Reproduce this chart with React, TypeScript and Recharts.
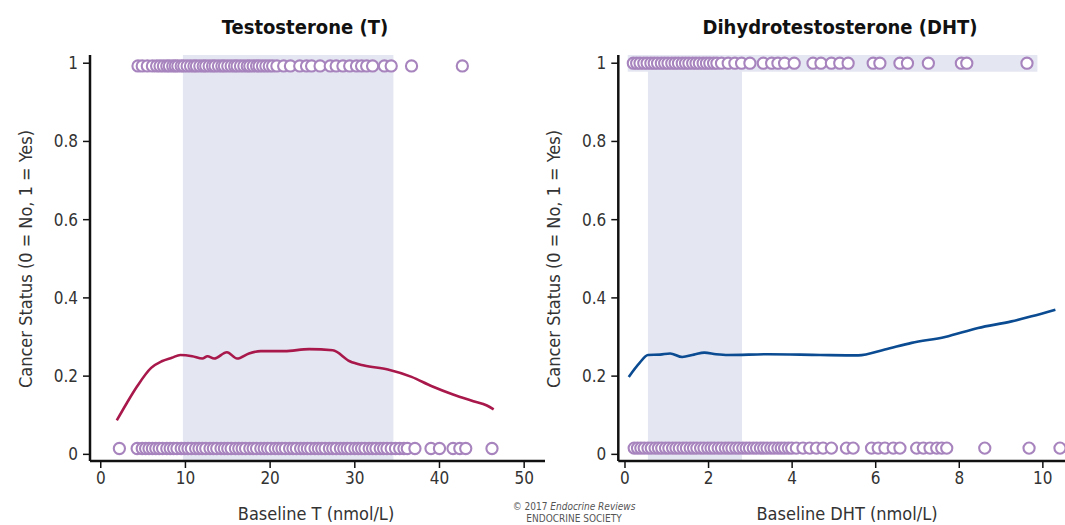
import React from 'react'
import { ComposedChart, Scatter, Line, XAxis, YAxis, ReferenceArea } from 'recharts'

const FONT = "'Liberation Sans Narrow', 'DejaVu Sans Condensed', 'Roboto Condensed', Arial, sans-serif"

const yTicks = [0, 0.2, 0.4, 0.6, 0.8, 1]

// Testosterone (T)
const tTicks = [0, 10, 20, 30, 40, 50]
const tCancerYes = [
  4.4, 4.9, 5.5, 6.1, 6.6, 7.0, 7.4, 7.8, 8.1, 8.5, 8.8, 9.1, 9.5, 9.8, 10.2, 10.6, 11.0, 11.3, 11.7,
  12.1, 12.4, 12.8, 13.2, 13.5, 13.9, 14.3, 14.6, 15.0, 15.4, 15.8, 16.1, 16.5, 16.9, 17.3, 17.6, 18.0,
  18.4, 18.7, 19.1, 19.5, 19.9, 20.3, 20.8, 21.6, 22.4, 23.5, 24.3, 24.9, 25.9, 27.1, 27.8, 28.6, 29.4,
  30.2, 30.8, 31.4, 32.1, 33.5, 34.3, 36.7, 42.7,
]
const tCancerNo = [
  2.2, 4.3, 4.9, 5.3, 5.7, 6.1, 6.5, 6.9, 7.3, 7.8, 8.2, 8.6, 9.0, 9.5, 9.9, 10.3, 10.7, 11.2, 11.6,
  12.0, 12.4, 12.9, 13.3, 13.7, 14.2, 14.6, 15.0, 15.4, 15.9, 16.3, 16.7, 17.1, 17.6, 18.0, 18.4, 18.9,
  19.3, 19.7, 20.1, 20.6, 21.0, 21.4, 21.8, 22.3, 22.7, 23.1, 23.6, 24.0, 24.4, 24.8, 25.3, 25.7, 26.1,
  26.5, 27.0, 27.4, 27.8, 28.3, 28.7, 29.1, 29.5, 30.0, 30.4, 30.8, 31.2, 31.7, 32.1, 32.5, 33.0, 33.4,
  33.8, 34.3, 34.8, 35.3, 35.8, 36.2, 37.1, 39.0, 40.0, 41.6, 42.4, 43.1, 46.2,
]
const tCurveX = [
  1.9, 3.1, 4.3, 5.95, 7.2, 8.4, 9.4, 10.8, 12.0, 12.6, 13.4, 14.9, 16.1, 17.5, 18.9, 21.7, 24.6, 27.4,
  29.4, 31.1, 33.9, 36.7, 39.1, 41.6, 44.0, 45.6, 46.4,
]
const tCurveY = [
  0.087, 0.132, 0.174, 0.221, 0.238, 0.247, 0.254, 0.251, 0.245, 0.251, 0.245, 0.261, 0.245, 0.258,
  0.264, 0.264, 0.269, 0.266, 0.238, 0.227, 0.217, 0.198, 0.174, 0.153, 0.136, 0.125, 0.115,
]
const tBand = [9.7, 34.56]

// Dihydrotestosterone (DHT)
const dhtTicks = [0, 2, 4, 6, 8, 10]
const dhtCancerYes = [
  0.2, 0.28, 0.36, 0.45, 0.53, 0.62, 0.7, 0.78, 0.87, 0.95, 1.03, 1.12, 1.2, 1.28, 1.37, 1.45, 1.53,
  1.62, 1.7, 1.78, 1.87, 1.95, 2.03, 2.12, 2.2, 2.31, 2.47, 2.63, 2.79, 2.99, 3.31, 3.51, 3.66, 3.82,
  4.05, 4.5, 4.69, 4.94, 5.14, 5.34, 5.94, 6.1, 6.58, 6.76, 7.26, 8.05, 8.18, 9.62,
]
const dhtCancerNo = [
  0.22, 0.3, 0.38, 0.46, 0.55, 0.63, 0.72, 0.8, 0.88, 0.97, 1.05, 1.14, 1.22, 1.3, 1.39, 1.47, 1.56,
  1.64, 1.72, 1.81, 1.89, 1.98, 2.06, 2.14, 2.23, 2.31, 2.4, 2.48, 2.56, 2.65, 2.73, 2.82, 2.9, 2.98,
  3.07, 3.15, 3.24, 3.32, 3.4, 3.49, 3.57, 3.66, 3.74, 3.82, 3.91, 3.99, 4.1, 4.26, 4.42, 4.58, 4.74,
  4.94, 5.3, 5.46, 5.9, 6.06, 6.22, 6.42, 6.58, 6.98, 7.14, 7.3, 7.46, 7.58, 7.7, 8.61, 9.67, 10.41,
]
const dhtCurveX = [
  0.09, 0.35, 0.55, 0.84, 1.08, 1.37, 1.65, 1.9, 2.18, 2.47, 3.44, 4.67, 5.58, 6.22, 6.86, 7.66, 8.45,
  9.25, 9.73, 10.3,
]
const dhtCurveY = [
  0.198, 0.234, 0.254, 0.255, 0.258, 0.249, 0.255, 0.26, 0.256, 0.254, 0.256, 0.254, 0.253, 0.268,
  0.285, 0.3, 0.323, 0.34, 0.353, 0.37,
]
const dhtBand = [0.55, 2.8]
const dhtYesBand = [0.065, 9.87]

const BAND = '#e4e6f1'
const RING = '#a784bd'

const Ring = (props: any) => (
  <circle cx={props.cx} cy={props.cy} r={5.6} fill="#fff" stroke={RING} strokeWidth={2.1} />
)

function Panel(props: any) {
  const { width, left, xDomain, xTicks, yes, no, yesLevel, noLevel, cx, cy, color, band, yesBand } = props
  const yesData = yes.map((x: number) => ({ x, y: yesLevel }))
  const noData = no.map((x: number) => ({ x, y: noLevel }))
  const curve = cx.map((x: number, i: number) => ({ x, y: cy[i] }))
  const tickStyle = { fill: '#333', fontSize: 17, fontFamily: FONT }
  return (
    <ComposedChart width={width} height={525} margin={{ top: 55, right: 0, bottom: 24, left }}>
      <XAxis
        type="number"
        dataKey="x"
        domain={xDomain}
        ticks={xTicks}
        allowDataOverflow
        height={40}
        axisLine={{ stroke: '#111', strokeWidth: 2.5 }}
        tickLine={{ stroke: '#111', strokeWidth: 1.5 }}
        tickSize={7}
        tickMargin={4}
        tick={tickStyle}
      />
      <YAxis
        type="number"
        dataKey="y"
        domain={[-0.017, 1.021]}
        ticks={yTicks}
        allowDataOverflow
        width={50}
        axisLine={{ stroke: '#111', strokeWidth: 2.5 }}
        tickLine={{ stroke: '#111', strokeWidth: 1.5 }}
        tickSize={7}
        tickMargin={5}
        tick={tickStyle}
      />
      <ReferenceArea x1={band[0]} x2={band[1]} fill={BAND} fillOpacity={1} stroke="none" />
      {yesBand && (
        <ReferenceArea x1={yesBand[0]} x2={yesBand[1]} y1={0.978} y2={1.021} fill={BAND} fillOpacity={1} stroke="none" />
      )}
      <Line
        data={curve}
        dataKey="y"
        type="monotone"
        stroke={color}
        strokeWidth={2.6}
        dot={false}
        activeDot={false}
        isAnimationActive={false}
      />
      <Scatter data={noData} dataKey="y" shape={Ring} isAnimationActive={false} />
      <Scatter data={yesData} dataKey="y" shape={Ring} isAnimationActive={false} />
    </ComposedChart>
  )
}

export default function App() {
  const label = { fontFamily: FONT, fontSize: 18, fill: '#333' }
  const title = { fontFamily: FONT, fontSize: 20, fontWeight: 700, fill: '#111' }
  return (
    <div style={{ position: 'absolute', left: 0, top: 0, width: 1065, height: 525, background: '#fff' }}>
      <div style={{ position: 'absolute', left: 0, top: 0 }}>
        <Panel
          width={545}
          left={40}
          xDomain={[-1.27, 52.46]}
          xTicks={tTicks}
          yes={tCancerYes}
          no={tCancerNo}
          yesLevel={0.993}
          noLevel={0.015}
          cx={tCurveX}
          cy={tCurveY}
          color="#a8184b"
          band={tBand}
        />
      </div>
      <div style={{ position: 'absolute', left: 560, top: 0 }}>
        <Panel
          width={505}
          left={8.3}
          xDomain={[-0.16, 10.53]}
          xTicks={dhtTicks}
          yes={dhtCancerYes}
          no={dhtCancerNo}
          yesLevel={1}
          noLevel={0.016}
          cx={dhtCurveX}
          cy={dhtCurveY}
          color="#0a4b91"
          band={dhtBand}
          yesBand={dhtYesBand}
        />
      </div>
      <svg width={1065} height={525} style={{ position: 'absolute', left: 0, top: 0, pointerEvents: 'none' }}>
        <text x={305} y={27} textAnchor="middle" dominantBaseline="central" {...title}>Testosterone (T)</text>
        <text x={840} y={27} textAnchor="middle" dominantBaseline="central" {...title}>Dihydrotestosterone (DHT)</text>
        <text x={25} y={259} textAnchor="middle" dominantBaseline="central" transform="rotate(-90 25 259)" {...label}>
          Cancer Status (0 = No, 1 = Yes)
        </text>
        <text x={553} y={259} textAnchor="middle" dominantBaseline="central" transform="rotate(-90 553 259)" {...label}>
          Cancer Status (0 = No, 1 = Yes)
        </text>
        <text x={316} y={513} textAnchor="middle" dominantBaseline="central" {...label}>Baseline T (nmol/L)</text>
        <text x={847} y={513} textAnchor="middle" dominantBaseline="central" {...label}>Baseline DHT (nmol/L)</text>
        <text x={574} y={506} textAnchor="middle" dominantBaseline="central" fontFamily={FONT} fontSize={10} fill="#555">
          © 2017 <tspan fontStyle="italic">Endocrine Reviews</tspan>
        </text>
        <text x={574} y={518} textAnchor="middle" dominantBaseline="central" fontFamily={FONT} fontSize={10} fill="#555">
          ENDOCRINE SOCIETY
        </text>
      </svg>
    </div>
  )
}
